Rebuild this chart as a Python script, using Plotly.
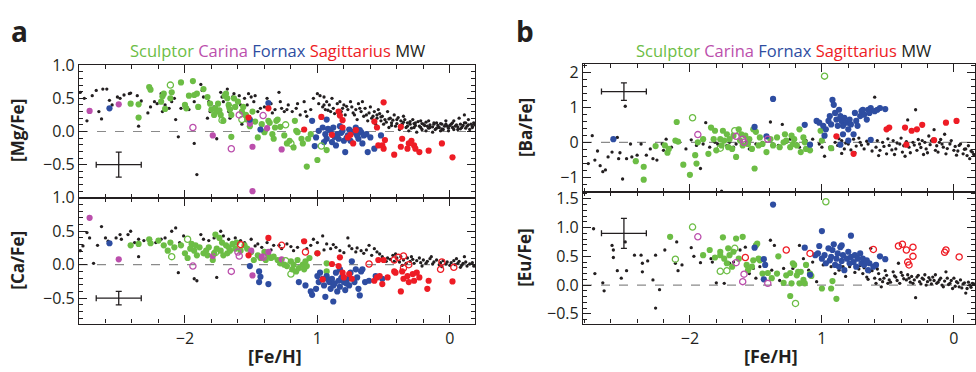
import plotly.graph_objects as go

# ---------------- colours ----------------
GREEN = "#6cbd45"
MAGENTA = "#bb4fac"
BLUE = "#2e4da1"
RED = "#ee1c25"
BLACK = "#231f20"

# ---------------- panel a, top: [Mg/Fe] vs [Fe/H] ----------------
SCULPTOR_MG = [(-2.41,0.42),(-2.35,0.41),(-2.35,0.21),(-2.27,0.67),(-2.26,0.63),(-2.18,0.45),(-2.17,0.53),(-2.16,0.57),(-2.15,0.34),(-2.11,0.50),(-2.10,0.59),(-2.03,0.74),(-2.00,0.40),(-1.99,0.35),(-1.97,0.54),(-1.94,0.76),(-1.93,0.55),(-1.91,0.57),(-1.90,0.37),(-1.86,0.64),(-1.83,0.52),(-1.81,0.42),(-1.80,0.33),(-1.78,0.25),(-1.77,0.35),(-1.76,0.30),(-1.75,0.42),(-1.74,0.32),(-1.73,0.25),(-1.71,0.16),(-1.70,0.54),(-1.69,0.57),(-1.68,0.50),(-1.67,0.40),(-1.66,0.33),(-1.65,0.25),(-1.65,-0.08),(-1.63,0.50),(-1.62,0.37),(-1.60,0.45),(-1.57,0.30),(-1.56,0.37),(-1.54,0.25),(-1.53,0.18),(-1.51,0.08),(-1.49,0.30),(-1.47,0.15),(-1.45,-0.09),(-1.42,0.11),(-1.40,-0.01),(-1.37,0.16),(-1.36,0.13),(-1.34,-0.04),(-1.33,-0.11),(-1.32,0.06),(-1.31,0.16),(-1.30,0.18),(-1.28,0.07),(-1.25,-0.06),(-1.23,-0.18),(-1.21,-0.14),(-1.18,-0.24),(-1.17,0.16),(-1.16,0.01),(-1.15,-0.01),(-1.12,-0.11),(-1.11,-0.18),(-1.08,-0.53),(-1.07,-0.11),(-1.05,-0.04),(-1.00,-0.43),(-0.93,-0.28)]
SCULPTOR_MG_OPEN = [(-2.11,0.70),(-1.66,0.36),(-1.72,0.17),(-1.57,0.18),(-1.24,0.10),(-1.20,-0.18),(-0.97,-0.22)]
CARINA_MG = [(-2.72,0.31),(-2.50,0.41),(-1.79,-0.06),(-1.49,-0.23),(-1.49,-0.90),(-1.51,0.12),(-1.38,0.05),(-1.27,-0.27)]
CARINA_MG_OPEN = [(-1.94,0.06),(-1.65,-0.26),(-1.59,0.25),(-1.41,0.24)]
FORNAX_MG = [(-2.57,0.35),(-1.37,0.43),(-1.51,0.18),(-1.43,0.03),(-1.04,0.16),(-0.93,0.18),(-1.01,-0.09),(-0.99,0.01),(-0.96,0.06),(-0.94,-0.04),(-0.93,-0.11),(-0.90,0.01),(-0.89,-0.16),(-0.88,0.06),(-0.86,-0.21),(-0.85,-0.04),(-0.84,-0.11),(-0.83,0.08),(-0.81,0.01),(-0.80,-0.14),(-0.79,-0.31),(-0.77,-0.06),(-0.76,0.03),(-0.75,-0.14),(-0.72,-0.01),(-0.71,0.06),(-0.70,-0.06),(-0.69,-0.11),(-0.67,-0.01),(-0.66,-0.18),(-0.65,-0.06),(-0.62,-0.31),(-0.60,-0.09),(-0.57,-0.26),(-0.52,-0.06),(-1.02,-0.22),(-0.95,-0.16),(-0.92,0.04),(-0.87,-0.08),(-0.82,-0.02),(-0.78,-0.10),(-0.74,0.00),(-0.68,0.02),(-0.63,-0.04)]
SAGITTARIUS_MG = [(-1.52,0.21),(-1.37,0.35),(-1.10,0.03),(-0.97,0.22),(-0.89,-0.05),(-0.84,0.30),(-0.83,0.24),(-0.81,0.17),(-0.81,0.06),(-0.77,-0.09),(-0.75,-0.05),(-0.71,0.02),(-0.73,-0.18),(-0.57,0.15),(-0.55,0.06),(-0.50,0.44),(-0.49,-0.13),(-0.54,-0.21),(-0.51,-0.21),(-0.50,-0.26),(-0.42,-0.35),(-0.37,0.07),(-0.36,-0.11),(-0.37,-0.23),(-0.32,-0.26),(-0.31,-0.18),(-0.29,-0.14),(-0.27,-0.21),(-0.26,-0.26),(-0.23,-0.31),(-0.16,-0.29),(-0.06,-0.18),(0.02,-0.39)]
MW_MG = [(-2.79,0.59),(-2.76,0.50),(-2.74,0.16),(-2.70,0.54),(-2.67,0.62),(-2.62,0.64),(-2.63,0.19),(-2.65,0.30),(-2.59,0.64),(-2.57,0.47),(-2.55,0.40),(-2.51,0.52),(-2.49,0.50),(-2.46,0.55),(-2.42,0.57),(-2.41,0.58),(-2.36,0.54),(-2.35,0.08),(-2.33,0.46),(-2.28,0.28),(-2.26,0.37),(-2.23,0.45),(-2.21,0.42),(-2.18,0.57),(-2.17,0.30),(-2.15,0.40),(-2.12,0.35),(-2.10,0.45),(-2.08,0.50),(-2.07,0.18),(-2.05,-0.08),(-2.03,0.35),(-2.01,0.40),(-1.97,0.33),(-1.93,0.45),(-1.93,-0.18),(-1.91,-0.65),(-1.88,0.71),(-1.87,0.62),(-1.86,0.52),(-1.83,0.20),(-1.82,0.45),(-1.81,0.30),(-1.78,0.37),(-1.76,-0.11),(-1.73,0.59),(-1.72,0.52),(-1.71,0.45),(-1.68,0.64),(-1.67,0.30),(-1.66,0.20),(-1.64,0.52),(-1.63,0.57),(-1.61,0.45),(-1.59,0.54),(-1.58,0.40),(-1.57,0.11),(-1.55,0.50),(-1.53,0.40),(-1.52,0.57),(-1.50,0.52),(-1.48,0.45),(-1.47,0.54),(-1.45,0.30),(-1.43,0.35),(-1.40,0.37),(-1.38,0.50),(-1.35,0.42),(-1.34,0.28),(-1.32,0.33),(-1.29,0.59),(-1.28,0.45),(-1.27,0.35),(-1.25,0.30),(-1.23,0.33),(-1.22,0.40),(-1.19,0.30),(-1.16,0.35),(-1.15,0.42),(-1.13,0.25),(-1.10,0.45),(-1.09,0.30),(-1.08,0.23),(-1.05,0.33),(-1.03,0.50),(-1.00,0.57),(-0.99,0.42),(-0.98,0.54),(-0.96,0.37),(-0.95,0.52),(-0.94,0.33),(-0.93,0.45),(-0.91,0.40),(-0.90,0.30),(-0.89,0.50),(-0.88,0.35),(-0.85,0.42),(-0.84,0.28),(-0.83,0.45),(-0.81,0.35),(-0.80,0.40),(-0.79,0.25),(-0.77,0.33),(-0.75,0.45),(-0.74,0.37),(-0.72,0.25),(-0.71,0.33),(-0.70,0.18),(-0.69,0.42),(-0.67,0.30),(-0.66,0.45),(-0.65,0.23),(-0.64,0.35),(-0.62,0.16),(-0.61,0.28),(-0.60,0.37),(-0.59,0.20),(-0.57,0.30),(-0.56,0.11),(-0.55,0.25),(-0.54,0.33),(-0.52,0.16),(-0.51,0.23),(-0.50,0.11),(-0.49,0.18),(-0.47,0.30),(-0.46,0.06),(-0.45,0.20),(-0.44,0.13),(-0.42,0.25),(-0.41,0.08),(-0.40,0.18),(-0.38,0.03),(-0.37,0.16),(-0.36,0.11),(-0.35,0.23),(-0.33,0.06),(-0.32,0.13),(-0.31,0.01),(-0.30,0.11),(-0.28,0.18),(-0.27,0.06),(-0.26,0.13),(-0.25,-0.01),(-0.23,0.08),(-0.22,0.16),(-0.21,0.03),(-0.20,0.11),(-0.18,0.01),(-0.17,0.08),(-0.16,0.16),(-0.15,0.06),(-0.13,-0.01),(-0.12,0.11),(-0.11,0.03),(-0.10,0.13),(-0.08,0.06),(-0.07,0.01),(-0.06,0.11),(-0.05,0.03),(-0.03,0.16),(-0.02,0.08),(-0.01,0.01),(0.01,0.11),(0.02,0.06),(0.03,0.16),(0.04,0.08),(0.06,0.03),(0.07,0.20),(0.08,0.11),(0.09,0.06),(0.11,0.25),(0.12,0.13),(0.13,0.08),(0.14,0.18),(0.16,0.11),(0.17,0.06),(0.18,0.13),
         (-0.55,0.20),(-0.52,0.22),(-0.48,0.14),(-0.46,0.19),(-0.44,0.09),(-0.43,0.17),(-0.40,0.12),(-0.39,0.21),(-0.37,0.09),(-0.35,0.14),(-0.34,0.18),(-0.32,0.08),(-0.30,0.15),(-0.29,0.05),(-0.27,0.12),(-0.26,0.09),(-0.24,0.15),(-0.22,0.06),(-0.21,0.12),(-0.19,0.09),(-0.18,0.14),(-0.16,0.05),(-0.15,0.10),(-0.13,0.07),(-0.12,0.13),(-0.10,0.05),(-0.09,0.09),(-0.07,0.12),(-0.06,0.04),(-0.04,0.08),(-0.03,0.11),(-0.01,0.05),(0.00,0.09),(0.02,0.13),(0.03,0.03),(0.05,0.10),(0.06,0.07),(0.08,0.04),(0.10,0.09),(0.11,0.13),(0.12,0.05),(0.14,0.10),(0.15,0.03),(0.17,0.08),(0.19,0.10),
         (-0.95,0.40),(-0.92,0.32),(-0.87,0.27),(-0.82,0.30),(-0.78,0.38),(-0.73,0.28),(-0.68,0.35),(-0.63,0.25),(-0.58,0.23),(-0.53,0.27)]

# ---------------- panel a, bottom: [Ca/Fe] vs [Fe/H] ----------------
SCULPTOR_CA = [(-2.41,0.29),(-2.35,0.31),(-2.27,0.38),(-2.26,0.32),(-2.20,0.36),(-2.16,0.29),(-2.13,0.21),(-2.11,0.33),(-2.08,0.26),(-2.03,0.29),(-2.00,0.17),(-1.98,0.10),(-1.96,0.24),(-1.95,0.31),(-1.93,0.21),(-1.92,0.29),(-1.91,0.14),(-1.89,0.26),(-1.86,0.17),(-1.84,0.21),(-1.83,0.14),(-1.82,0.26),(-1.79,0.07),(-1.78,0.17),(-1.77,0.45),(-1.76,0.24),(-1.74,0.40),(-1.73,0.21),(-1.72,0.33),(-1.71,0.14),(-1.69,0.29),(-1.68,0.17),(-1.67,0.26),(-1.66,0.21),(-1.64,0.31),(-1.62,0.24),(-1.61,0.33),(-1.58,0.21),(-1.55,0.29),(-1.53,0.24),(-1.50,0.19),(-1.48,0.07),(-1.45,0.14),(-1.43,0.10),(-1.40,0.19),(-1.39,0.07),(-1.37,0.14),(-1.35,0.10),(-1.33,0.12),(-1.30,0.07),(-1.28,0.02),(-1.25,0.00),(-1.23,-0.02),(-1.20,0.05),(-1.19,-0.07),(-1.18,0.00),(-1.16,-0.10),(-1.15,0.07),(-1.14,-0.05),(-1.11,0.00),(-1.10,-0.07),(-1.09,0.05),(-1.08,-0.02),(-1.06,0.10),(-1.00,0.17),(-0.93,0.02),(-0.93,-0.10)]
SCULPTOR_CA_OPEN = [(-2.10,0.12),(-1.98,0.38),(-1.77,0.18),(-1.24,0.06),(-1.20,-0.14)]
CARINA_CA = [(-2.72,0.70),(-2.50,0.08),(-1.79,0.13),(-1.50,0.21),(-1.49,-0.16),(-1.42,0.12),(-1.37,0.19),(-1.27,0.08)]
CARINA_CA_OPEN = [(-1.94,-0.02),(-1.65,-0.10),(-1.60,0.19),(-1.59,0.13),(-1.41,0.11)]
FORNAX_CA = [(-2.57,0.32),(-1.51,-0.02),(-1.44,-0.10),(-1.43,-0.18),(-1.44,-0.26),(-1.37,-0.29),(-1.14,-0.26),(-1.09,-0.31),(-1.05,-0.40),(-1.04,-0.45),(-1.01,-0.36),(-1.00,-0.17),(-0.99,-0.26),(-0.98,-0.12),(-0.96,-0.21),(-0.95,-0.31),(-0.94,-0.48),(-0.93,-0.17),(-0.91,-0.26),(-0.90,-0.36),(-0.89,-0.21),(-0.88,-0.55),(-0.88,-0.31),(-0.86,-0.12),(-0.85,-0.40),(-0.84,-0.24),(-0.83,-0.33),(-0.81,-0.17),(-0.80,-0.26),(-0.79,-0.38),(-0.77,-0.21),(-0.76,-0.31),(-0.75,-0.12),(-0.74,0.05),(-0.72,-0.26),(-0.71,-0.07),(-0.70,-0.19),(-0.69,-0.36),(-0.68,-0.46),(-0.67,-0.10),(-0.66,-0.07),(-0.64,-0.26),(-0.61,-0.24),(-0.56,-0.17),(-0.51,-0.21),(-0.83,-0.07),(-0.92,-0.22),(-0.87,-0.28),(-0.82,-0.20),(-0.78,-0.28)]
SAGITTARIUS_CA = [(-1.52,0.14),(-1.37,0.40),(-1.10,0.35),(-1.00,0.17),(-0.96,-0.22),(-0.89,0.01),(-0.84,-0.02),(-0.83,0.11),(-0.81,-0.12),(-0.80,-0.19),(-0.76,-0.14),(-0.74,-0.21),(-0.57,-0.24),(-0.55,-0.19),(-0.53,-0.17),(-0.51,-0.29),(-0.50,0.07),(-0.47,-0.19),(-0.42,-0.10),(-0.41,-0.12),(-0.37,-0.40),(-0.36,-0.10),(-0.35,-0.21),(-0.32,-0.17),(-0.31,-0.26),(-0.28,-0.14),(-0.27,-0.24),(-0.25,-0.12),(-0.23,-0.19),(-0.17,-0.36),(-0.16,-0.24),(0.02,-0.25),(-0.54,0.07)]
SAGITTARIUS_CA_OPEN = [(-1.58,0.30),(-1.27,0.29),(-1.09,0.19),(-0.61,0.01),(-0.42,0.07),(-0.39,0.11),(-0.35,0.13),(-0.31,0.00),(-0.35,-0.05),(-0.06,0.04),(-0.07,-0.07),(0.03,-0.04)]
MW_CA = [(-2.79,0.21),(-2.77,0.28),(-2.74,0.48),(-2.72,0.40),(-2.69,0.02),(-2.66,0.29),(-2.63,0.57),(-2.60,0.40),(-2.58,0.35),(-2.52,0.40),(-2.49,0.45),(-2.48,0.38),(-2.43,0.45),(-2.41,0.50),(-2.38,0.33),(-2.35,0.38),(-2.35,0.12),(-2.31,0.36),(-2.26,0.38),(-2.22,0.33),(-2.18,0.38),(-2.15,0.40),(-2.10,0.50),(-2.07,0.55),(-2.05,-0.12),(-2.04,0.33),(-2.01,0.43),
         (-1.93,-0.21),(-1.91,-0.24),(-1.88,0.45),(-1.86,0.38),(-1.82,0.36),(-1.78,0.40),(-1.76,-0.19),(-1.73,0.50),(-1.71,0.43),(-1.67,0.38),(-1.62,0.40),(-1.58,0.36),(-1.55,0.33),(-1.50,0.38),(-1.45,0.31),(-1.42,0.26),(-1.38,0.33),(-1.33,0.29),(-1.29,0.29),(-1.27,0.24),(-1.23,0.31),(-1.18,0.21),(-1.15,0.26),(-1.11,0.36),(-1.05,0.29),(-1.03,0.38),(-1.00,0.33),(-1.47,0.28),(-1.35,0.22),(-1.20,0.27),(-1.08,0.24),
         (-0.96,0.43),(-0.93,0.31),(-0.90,0.24),(-0.86,0.26),(-0.83,0.21),(-0.77,0.40),(-0.74,0.24),(-0.71,0.19),(-0.67,0.21),(-0.65,0.17),(-0.61,0.29),(-0.59,0.14),(-0.55,0.19),(-0.51,0.12),(-0.47,0.10),(-0.95,0.22),(-0.88,0.30),(-0.80,0.18),(-0.76,0.28),(-0.70,0.25),(-0.63,0.22),(-0.57,0.24),(-0.53,0.16),
         (-0.45,0.08),(-0.43,0.14),(-0.42,0.05),(-0.40,0.10),(-0.38,0.04),(-0.37,0.12),(-0.35,0.07),(-0.33,0.02),(-0.32,0.10),(-0.30,0.05),(-0.28,0.08),(-0.27,0.02),(-0.25,0.06),(-0.23,0.10),(-0.22,0.03),(-0.20,0.07),(-0.18,0.02),(-0.17,0.05),(-0.15,0.09),(-0.13,0.01),(-0.12,0.04),(-0.10,0.07),(-0.08,0.00),(-0.07,0.03),(-0.05,0.06),(-0.03,0.01),(-0.02,0.04),(0.00,-0.01),(0.01,0.03),(0.03,0.06),(0.04,0.00),(0.06,0.02),(0.07,0.05),(0.09,-0.01),(0.10,0.02),(0.12,0.04),(0.13,-0.02),(0.15,0.01),(0.17,0.03),(0.18,-0.02),(0.11,0.12),(-0.41,0.16),(-0.29,0.12),(-0.14,0.12),(0.05,0.09),(-0.48,0.05),(-0.36,-0.01),(-0.21,-0.02),(-0.06,-0.03),(0.08,-0.04)]

# ---------------- panel b, top: [Ba/Fe] vs [Fe/H] ----------------
SCULPTOR_BA = [(-2.41,-0.54),(-2.35,-0.70),(-2.35,-1.07),(-2.26,-0.11),(-2.19,-0.09),(-2.17,-0.30),(-2.16,-0.19),(-2.10,0.58),(-2.11,0.05),(-2.09,0.02),(-2.05,-0.64),(-2.00,-0.93),(-1.96,-0.37),(-1.95,-0.61),(-1.94,0.00),(-1.90,0.09),(-1.86,-0.33),(-1.84,0.42),(-1.82,0.09),(-1.81,0.33),(-1.80,-0.23),(-1.77,0.09),(-1.76,-0.09),(-1.75,0.33),(-1.74,0.05),(-1.72,0.23),(-1.71,-0.14),(-1.70,0.09),(-1.68,-0.19),(-1.67,0.19),(-1.65,-0.42),(-1.63,0.37),(-1.62,0.05),(-1.61,0.23),(-1.60,-0.09),(-1.58,0.19),(-1.56,-0.05),(-1.55,0.09),(-1.53,-0.19),(-1.52,0.37),(-1.51,-0.75),(-1.50,0.30),(-1.48,-0.09),(-1.47,0.14),(-1.45,-0.05),(-1.42,-0.28),(-1.39,0.09),(-1.37,-0.09),(-1.34,0.14),(-1.32,-0.14),(-1.29,0.00),(-1.28,0.23),(-1.27,0.05),(-1.24,-0.14),(-1.23,0.19),(-1.22,-0.05),(-1.21,0.09),(-1.19,-0.09),(-1.17,0.37),(-1.16,-0.28),(-1.14,0.14),(-1.13,0.00),(-1.12,-0.19),(-1.09,-0.23),(-1.01,0.33),(-1.00,0.05),(-0.93,-0.17)]
SCULPTOR_BA_OPEN = [(-1.98,0.70),(-0.98,1.89),(-1.66,0.33),(-1.77,-0.17)]
CARINA_BA_OPEN = [(-1.94,0.22),(-1.65,0.17),(-1.60,0.09),(-1.59,0.00),(-1.41,0.09)]
FORNAX_BA = [(-2.58,0.09),(-1.51,0.44),(-1.42,0.17),(-1.37,1.24),(-1.13,0.50),(-1.09,-0.07),(-1.04,0.61),(-1.02,0.56),(-0.99,0.47),(-0.98,0.19),(-0.97,0.37),(-0.95,0.61),(-0.94,0.75),(-0.93,0.51),(-0.92,1.21),(-0.91,1.07),(-0.90,0.84),(-0.89,0.65),(-0.88,0.47),(-0.87,0.93),(-0.86,0.75),(-0.85,0.61),(-0.84,0.23),(-0.84,0.47),(-0.83,0.70),(-0.81,0.56),(-0.80,0.37),(-0.79,0.65),(-0.78,0.51),(-0.76,0.23),(-0.75,0.84),(-0.74,0.61),(-0.73,0.47),(-0.71,0.75),(-0.70,0.89),(-0.69,0.93),(-0.68,0.79),(-0.66,0.65),(-0.65,0.93),(-0.64,0.84),(-0.63,0.98),(-0.60,0.89),(-0.58,0.93),(-0.56,0.98),(-0.52,0.95),(-0.63,0.07),(-0.86,-0.07),(-0.80,0.05)]
SAGITTARIUS_BA = [(-0.89,0.17),(-0.76,-0.33),(-0.51,0.37),(-0.49,0.42),(-0.37,0.42),(-0.36,-0.07),(-0.32,0.33),(-0.28,0.37),(-0.24,0.50),(-0.15,0.06),(-0.06,0.56),(0.02,0.61)]
MW_BA = [(-2.77,-0.61),(-2.74,0.19),(-2.72,-0.51),(-2.70,-0.25),(-2.68,-0.67),(-2.66,-0.84),(-2.64,-0.79),(-2.62,-0.42),(-2.59,-0.28),(-2.55,0.14),(-2.54,-0.47),(-2.53,-0.30),(-2.51,-1.05),(-2.49,1.03),(-2.48,-0.47),(-2.45,-0.05),(-2.44,-0.42),(-2.40,-0.37),(-2.37,-0.05),(-2.33,-0.37),(-2.30,-0.19),(-2.28,-0.47),(-2.25,-0.51),(-2.21,-0.05),(-2.20,-0.23),(-2.18,0.09),(-2.14,-0.14),(-2.08,0.00),(-2.03,-0.19),
         (-1.99,0.07),(-1.95,-0.09),(-1.92,-0.75),(-1.90,-0.05),(-1.88,0.56),(-1.85,-0.14),(-1.81,0.00),(-1.79,-0.05),(-1.76,-1.40),(-1.72,-0.09),(-1.70,0.00),(-1.67,-0.14),(-1.65,-0.05),(-1.60,-0.09),(-1.57,0.00),(-1.55,-0.19),(-1.50,-0.05),(-1.45,0.00),(-1.39,0.58),(-1.37,-0.05),(-1.33,-0.09),(-1.30,0.51),(-1.27,0.00),(-1.24,0.09),(-1.19,-0.05),(-1.17,-0.14),(-1.12,0.05),(-1.07,0.09),(-1.02,-0.05),(-1.00,-0.14),
         (-0.94,-0.14),(-0.90,0.00),(-0.88,-0.09),(-0.85,0.05),(-0.83,-0.19),(-0.80,-0.05),(-0.76,0.09),(-0.74,-0.11),(-0.71,0.00),(-0.68,-0.19),(-0.65,-0.05),(-0.63,0.09),(-0.60,1.29),(-0.59,-0.14),(-0.56,-0.23),(-0.54,0.00),(-0.51,-0.33),(-0.49,-0.09),(-0.46,0.05),(-0.44,-0.19),(-0.41,-0.05),(-0.39,-0.28),(-0.36,0.02),(-0.35,0.64),(-0.34,-0.14),(-0.31,0.00),(-0.29,0.93),(-0.28,-0.23),(-0.26,-0.05),(-0.24,0.05),(-0.21,-0.19),(-0.18,-0.07),(-0.16,0.09),(-0.15,0.36),(-0.14,-0.23),(-0.11,0.00),(-0.08,-0.14),(-0.07,0.23),(-0.06,-0.33),(-0.03,-0.05),(0.00,-0.23),(0.02,-0.37),(0.04,-0.09),(0.07,-0.33),(0.09,-0.19),(0.12,-0.47),(0.14,-0.28),
         (-0.92,-0.20),(-0.87,0.10),(-0.82,-0.02),(-0.78,-0.22),(-0.72,0.12),(-0.70,-0.08),(-0.66,0.03),(-0.62,-0.25),(-0.58,0.05),(-0.53,-0.12),(-0.50,0.10),(-0.47,-0.22),(-0.43,-0.02),(-0.40,0.12),(-0.38,-0.10),(-0.33,-0.30),(-0.30,-0.08),(-0.27,0.08),(-0.25,-0.15),(-0.22,0.00),(-0.20,-0.30),(-0.17,0.05),(-0.13,-0.10),(-0.12,-0.28),(-0.10,0.08),(-0.09,-0.05),(-0.05,-0.18),(-0.02,0.05),(0.01,-0.12),(0.03,-0.25),(0.05,-0.05),(0.08,-0.20),(0.10,-0.38),(0.11,-0.10),(0.13,-0.25),(0.15,-0.35),(-0.57,-0.38),(-0.45,-0.35),(-0.37,-0.40),(-0.23,-0.35),(-0.19,0.18),(-0.98,-0.40),(-0.85,-0.32),(-0.75,-0.30)]

# ---------------- panel b, bottom: [Eu/Fe] vs [Fe/H] ----------------
SCULPTOR_EU = [(-2.15,0.84),(-1.90,0.52),(-1.85,0.61),(-1.81,0.48),(-1.77,0.58),(-1.77,0.52),(-1.75,0.83),(-1.74,0.46),(-1.72,0.38),(-1.71,0.64),(-1.70,0.52),(-1.68,0.32),(-1.67,0.58),(-1.65,0.81),(-1.63,0.46),(-1.60,0.84),(-1.57,0.35),(-1.56,0.26),(-1.53,0.32),(-1.52,0.43),(-1.50,0.69),(-1.49,0.72),(-1.48,0.46),(-1.47,0.43),(-1.45,0.20),(-1.41,0.21),(-1.38,0.12),(-1.34,0.20),(-1.33,0.50),(-1.29,0.04),(-1.27,0.17),(-1.24,0.21),(-1.23,0.03),(-1.22,0.38),(-1.21,0.35),(-1.19,0.17),(-1.18,0.23),(-1.17,0.03),(-1.16,0.23),(-1.14,0.09),(-1.13,0.03),(-1.12,0.35),(-1.09,0.20),(-1.08,0.16),(-1.24,-0.19),(-1.00,-0.06),(-0.93,-0.06),(-0.92,0.07),(-0.89,-0.24)]
SCULPTOR_EU_OPEN = [(-1.98,1.01),(-2.11,0.45),(-1.77,0.24),(-1.72,0.25),(-1.66,0.64),(-1.20,-0.32),(-0.97,1.45)]
CARINA_EU_OPEN = [(-1.94,0.84),(-1.65,0.39),(-1.59,0.19),(-1.60,0.06),(-1.41,0.03)]
FORNAX_EU = [(-1.37,1.40),(-1.51,0.65),(-1.44,0.45),(-1.43,0.35),(-1.44,0.10),(-1.13,0.65),(-1.09,0.18),(-1.02,0.68),(-1.00,0.94),(-0.78,0.86),(-1.05,0.52),(-1.03,0.55),(-1.00,0.46),(-0.98,0.52),(-0.97,0.38),(-0.95,0.64),(-0.94,0.43),(-0.93,0.49),(-0.92,0.61),(-0.91,0.71),(-0.90,0.35),(-0.89,0.46),(-0.88,0.55),(-0.87,0.32),(-0.86,0.66),(-0.85,0.42),(-0.84,0.52),(-0.83,0.26),(-0.81,0.46),(-0.80,0.58),(-0.79,0.38),(-0.78,0.49),(-0.76,0.40),(-0.75,0.52),(-0.74,0.32),(-0.73,0.46),(-0.71,0.55),(-0.70,0.38),(-0.69,0.46),(-0.68,0.35),(-0.66,0.43),(-0.65,0.26),(-0.64,0.38),(-0.61,0.32),(-0.59,0.35),(-0.56,0.50),(-0.52,0.45),(-0.85,0.69)]
SAGITTARIUS_EU_OPEN = [(-1.58,0.48),(-1.27,0.61),(-1.09,0.55),(-0.61,0.62),(-0.42,0.68),(-0.39,0.71),(-0.36,0.61),(-0.31,0.66),(-0.31,0.50),(-0.35,0.40),(-0.34,0.35),(-0.07,0.57),(-0.06,0.61),(0.04,0.49)]
MW_EU = [(-2.73,0.98),(-2.72,0.20),(-2.66,0.04),(-2.65,-0.10),(-2.59,0.69),(-2.58,0.61),(-2.58,0.48),(-2.55,0.25),(-2.52,0.12),(-2.49,0.75),(-2.48,0.25),(-2.42,0.52),(-2.37,0.52),(-2.36,0.38),(-2.36,0.23),(-2.32,0.42),(-2.28,0.09),(-2.26,0.52),(-2.26,-0.40),(-2.23,-0.08),(-2.19,0.61),(-2.11,0.38),(-2.10,0.75),(-2.09,0.25),(-2.06,0.35),(-1.99,0.65),(-1.97,0.50),(-1.92,0.39),(-1.84,0.46),(-1.83,0.40),(-1.80,0.04),(-1.74,0.03),(-1.70,0.38),(-1.67,0.40),(-1.62,0.61),(-1.58,0.66),(-1.57,0.35),(-1.55,0.20),(-1.52,0.29),(-1.50,0.12),(-1.47,0.32),(-1.39,0.78),(-1.38,0.26),(-1.36,0.69),(-1.32,0.08),(-1.29,0.29),(-1.22,0.29),(-1.17,0.69),(-1.14,0.46),(-1.10,0.26),(-1.07,0.40),(-1.04,0.06),(-0.99,0.35),
         (-0.93,0.32),(-0.90,0.20),(-0.87,0.26),(-0.84,0.32),(-0.82,0.15),(-0.79,0.32),(-0.75,0.22),(-0.72,0.28),(-0.69,0.20),(-0.66,0.14),(-0.64,0.23),(-0.63,0.64),(-0.60,0.12),(-0.59,0.03),(-0.57,0.20),(-0.55,-0.03),(-0.53,0.12),(-0.51,0.17),(-0.50,0.03),(-0.49,0.09),(-0.46,0.23),(-0.44,0.14),(-0.42,0.38),(-0.41,0.03),(-0.39,0.17),(-0.36,0.09),(-0.34,0.12),(-0.31,0.03),(-0.29,-0.22),(-0.28,0.14),(-0.26,0.06),(-0.24,0.12),(-0.21,0.00),(-0.18,0.09),(-0.16,0.14),(-0.13,0.03),(-0.11,0.09),(-0.08,-0.03),(-0.06,0.23),(-0.03,0.03),(-0.01,-0.06),(0.02,0.06),(0.04,-0.03),(0.07,0.02),(0.09,-0.14),(0.12,0.00),(0.14,0.03),
         (-0.68,0.30),(-0.62,0.25),(-0.58,0.28),(-0.56,0.10),(-0.52,0.25),(-0.48,0.05),(-0.45,0.16),(-0.43,0.08),(-0.40,0.22),(-0.38,0.11),(-0.35,0.18),(-0.33,0.05),(-0.32,0.15),(-0.30,0.09),(-0.27,0.17),(-0.25,0.02),(-0.23,0.10),(-0.22,0.18),(-0.20,0.06),(-0.19,0.13),(-0.17,0.02),(-0.15,0.08),(-0.14,0.18),(-0.12,0.05),(-0.10,0.12),(-0.09,0.00),(-0.07,0.07),(-0.05,0.12),(-0.04,0.01),(-0.02,0.08),(0.00,0.12),(0.01,-0.02),(0.03,0.04),(0.05,0.09),(0.06,-0.05),(0.08,0.04),(0.10,-0.06),(0.11,0.05),(0.13,-0.04),(0.15,0.02),(-0.71,0.34),(-0.65,0.10),(-0.54,0.06)]

# typical error bars: (x, y, err_x, err_y)
ERR_MG = (-2.5, -0.5, 0.17, 0.19)
ERR_CA = (-2.5, -0.5, 0.17, 0.10)
ERR_BA = (-2.5, 1.45, 0.17, 0.25)
ERR_EU = (-2.5, 0.90, 0.17, 0.26)

X_TICKS = [-2, -1, 0]
X_TICKTEXT = ["\u22122", "1", "0"]

fig = go.Figure()


def add(pts, ax, kind, color=BLACK):
    xa, ya = ax
    if kind == "mw":
        marker = dict(size=3.3, color=BLACK)
    elif kind == "filled":
        marker = dict(size=6.2, color=color)
    else:
        marker = dict(size=6.2, symbol="circle-open", color=color, line=dict(color=color, width=1.3))
    fig.add_trace(go.Scatter(x=[p[0] for p in pts], y=[p[1] for p in pts], mode="markers",
                             marker=marker, xaxis=xa, yaxis=ya, showlegend=False, hoverinfo="skip"))


def add_err(e, ax):
    xa, ya = ax
    fig.add_trace(go.Scatter(x=[e[0]], y=[e[1]], mode="markers", marker=dict(size=1, color=BLACK),
                             error_x=dict(type="data", array=[e[2]], color=BLACK, thickness=1.3, width=3),
                             error_y=dict(type="data", array=[e[3]], color=BLACK, thickness=1.3, width=3),
                             xaxis=xa, yaxis=ya, showlegend=False, hoverinfo="skip"))


A_TOP, A_BOT, B_TOP, B_BOT = ("x", "y"), ("x2", "y2"), ("x3", "y3"), ("x4", "y4")

# panel a top
add(MW_MG, A_TOP, "mw")
add(SCULPTOR_MG, A_TOP, "filled", GREEN)
add(CARINA_MG, A_TOP, "filled", MAGENTA)
add(FORNAX_MG, A_TOP, "filled", BLUE)
add(SAGITTARIUS_MG, A_TOP, "filled", RED)
add(SCULPTOR_MG_OPEN, A_TOP, "open", GREEN)
add(CARINA_MG_OPEN, A_TOP, "open", MAGENTA)
add_err(ERR_MG, A_TOP)
# panel a bottom
add(MW_CA, A_BOT, "mw")
add(SCULPTOR_CA, A_BOT, "filled", GREEN)
add(CARINA_CA, A_BOT, "filled", MAGENTA)
add(FORNAX_CA, A_BOT, "filled", BLUE)
add(SAGITTARIUS_CA, A_BOT, "filled", RED)
add(SCULPTOR_CA_OPEN, A_BOT, "open", GREEN)
add(CARINA_CA_OPEN, A_BOT, "open", MAGENTA)
add(SAGITTARIUS_CA_OPEN, A_BOT, "open", RED)
add_err(ERR_CA, A_BOT)
# panel b top
add(MW_BA, B_TOP, "mw")
add(SCULPTOR_BA, B_TOP, "filled", GREEN)
add(FORNAX_BA, B_TOP, "filled", BLUE)
add(SAGITTARIUS_BA, B_TOP, "filled", RED)
add(SCULPTOR_BA_OPEN, B_TOP, "open", GREEN)
add(CARINA_BA_OPEN, B_TOP, "open", MAGENTA)
add_err(ERR_BA, B_TOP)
# panel b bottom
add(MW_EU, B_BOT, "mw")
add(SCULPTOR_EU, B_BOT, "filled", GREEN)
add(FORNAX_EU, B_BOT, "filled", BLUE)
add(SCULPTOR_EU_OPEN, B_BOT, "open", GREEN)
add(CARINA_EU_OPEN, B_BOT, "open", MAGENTA)
add(SAGITTARIUS_EU_OPEN, B_BOT, "open", RED)
add_err(ERR_EU, B_BOT)

W, H = 976, 372
FONT = "Open Sans"


def px_x(p):
    return p / W


def px_y(p):
    return 1 - p / H


def xaxis(dom, anchor, rng, labels):
    return dict(domain=dom, anchor=anchor, range=rng, showline=True, linecolor=BLACK, linewidth=1.3,
                mirror="ticks", ticks="inside", ticklen=8, tickwidth=1.3, tickcolor=BLACK,
                tickvals=X_TICKS, ticktext=X_TICKTEXT, showticklabels=labels,
                minor=dict(ticks="inside", ticklen=4, tickwidth=1, tickcolor=BLACK, dtick=0.2, tick0=0),
                showgrid=False, zeroline=False, tickfont=dict(family=FONT, size=16, color=BLACK))


def yaxis(dom, anchor, rng, vals, text, minor_dt):
    return dict(domain=dom, anchor=anchor, range=rng, showline=True, linecolor=BLACK, linewidth=1.3,
                mirror="ticks", ticks="inside", ticklen=8, tickwidth=1.3, tickcolor=BLACK,
                tickvals=vals, ticktext=text,
                minor=dict(ticks="inside", ticklen=4, tickwidth=1, tickcolor=BLACK, dtick=minor_dt, tick0=0),
                showgrid=False, zeroline=False, tickfont=dict(family=FONT, size=16, color=BLACK))


AX_A = [px_x(79), px_x(475)]
AX_B = [px_x(583), px_x(975)]
layout_axes = dict(
    xaxis=xaxis(AX_A, "y", [-2.8, 0.19], False),
    yaxis=yaxis([px_y(193), px_y(56)], "x", [-1.0, 1.0], [1.0, 0.5, 0, -0.5], ["1.0", "0.5", "0.0", "\u22120.5"], 0.1),
    xaxis2=xaxis(AX_A, "y2", [-2.8, 0.19], True),
    yaxis2=yaxis([px_y(323), px_y(193)], "x2", [-0.88, 1.0], [1.0, 0.5, 0, -0.5], ["1.0", "0.5", "0.0", "\u22120.5"], 0.1),
    xaxis3=xaxis(AX_B, "y3", [-2.81, 0.16], False),
    yaxis3=yaxis([px_y(187), px_y(55)], "x3", [-1.42, 2.23], [2, 1, 0, -1], ["2", "1", "0", "\u22121"], 0.2),
    xaxis4=xaxis(AX_B, "y4", [-2.81, 0.16], True),
    yaxis4=yaxis([px_y(323), px_y(187)], "x4", [-0.67, 1.62], [1.5, 1.0, 0.5, 0, -0.5], ["1.5", "1.0", "0.5", "0.0", "\u22120.5"], 0.1),
)

shapes = []
for xa, ya in (A_TOP, A_BOT, B_TOP, B_BOT):
    shapes.append(dict(type="line", xref=f"{xa} domain", yref=ya, x0=0, x1=1, y0=0, y1=0,
                       line=dict(color="#8a8a8a", width=1.2, dash="dash"), layer="below"))

LEG = (f"<span style='color:{GREEN}'>Sculptor</span> <span style='color:{MAGENTA}'>Carina</span> "
       f"<span style='color:{BLUE}'>Fornax</span> <span style='color:{RED}'>Sagittarius</span> "
       f"<span style='color:{BLACK}'>MW</span>")

ann = []


def text(x, y, t, size, bold=False, angle=0):
    ann.append(dict(x=px_x(x), y=px_y(y), xref="paper", yref="paper", text=f"<b>{t}</b>" if bold else t,
                    showarrow=False, textangle=angle, xanchor="center", yanchor="middle",
                    font=dict(family=FONT, size=size, color=BLACK)))


text(19, 21, "a", 28, True)
text(525, 21, "b", 28, True)
text(277, 41, LEG, 16.5)
text(783, 41, LEG, 16.5)
text(18, 124, "[Mg/Fe]", 17, True, -90)
text(18, 258, "[Ca/Fe]", 17, True, -90)
text(525, 121, "[Ba/Fe]", 17, True, -90)
text(525, 255, "[Eu/Fe]", 17, True, -90)
text(275, 357, "[Fe/H]", 18, True)
text(771, 357, "[Fe/H]", 18, True)

fig.update_layout(width=W, height=H, margin=dict(l=0, r=0, t=0, b=0), plot_bgcolor="white",
                  paper_bgcolor="white", showlegend=False, shapes=shapes, annotations=ann, **layout_axes)

fig.write_html("out.html")
